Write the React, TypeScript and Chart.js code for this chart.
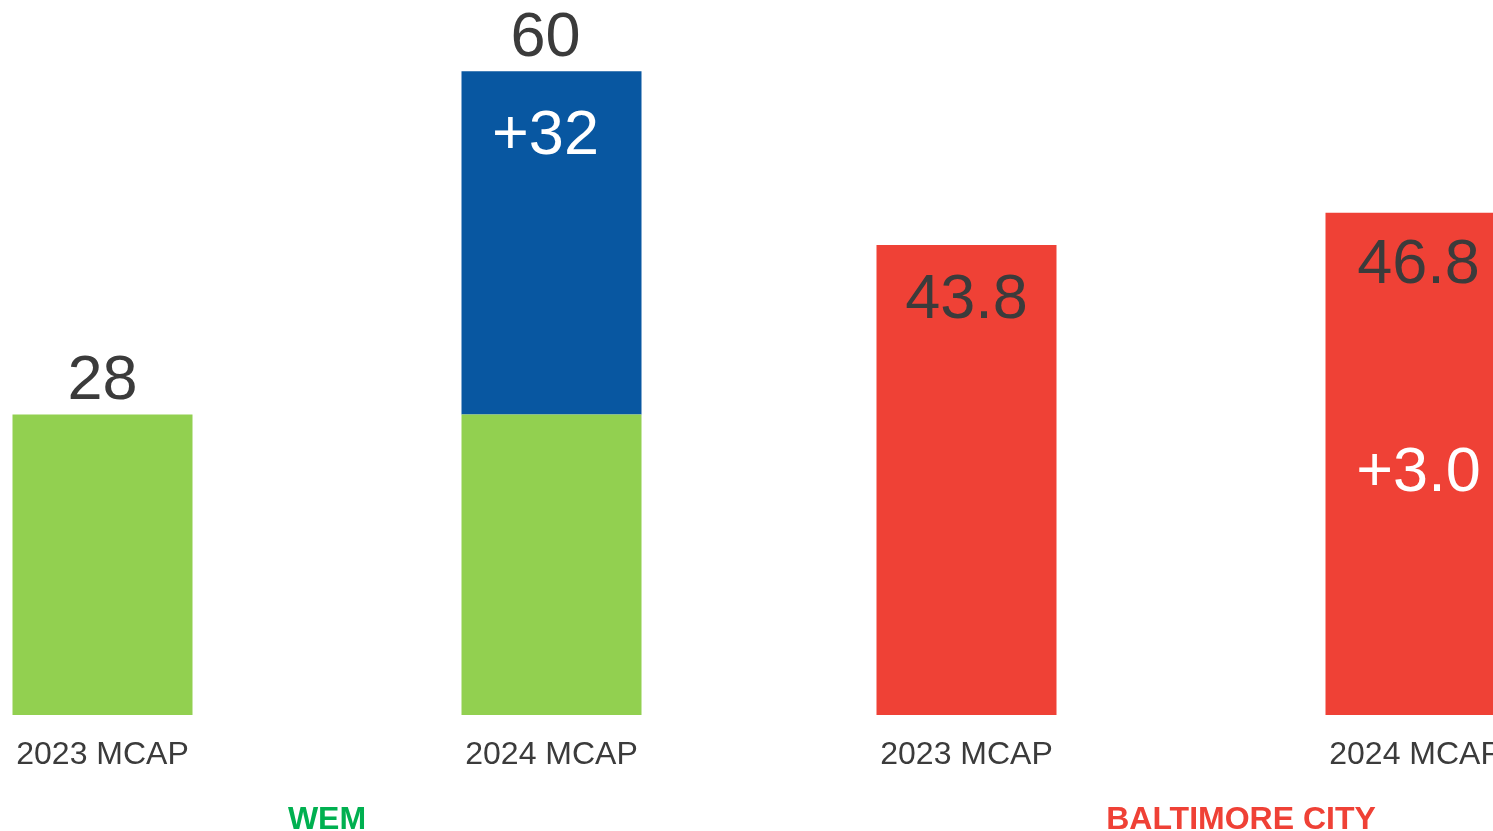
import React, { useEffect, useRef } from 'react';
import { Chart, registerables } from 'chart.js';

Chart.register(...registerables);

// ---- data ----
const groups = ['WEM', 'BALTIMORE CITY'];
const yearLabels = ['2023 MCAP', '2024 MCAP'];
const mcap2023 = [28, 43.8];
const mcap2024Base = [28, 43.8];
const mcap2024Change = [32, 3.0];
const groupDecimals = [0, 1];

// ---- styles ----
const GREEN = '#92D050';
const BLUE = '#0857A1';
const RED = '#EF4136';
const TEXT = '#3B3B3B';
const groupColors = ['#00B050', RED];
const baseColors = [GREEN, RED];
const changeColors = [BLUE, RED];
const FONT = '"Liberation Sans", Arial, Helvetica, sans-serif';

const labelPlugin = {
  id: 'mcapLabels',
  afterDatasetsDraw(chart: any) {
    const ctx = chart.ctx;
    const area = chart.chartArea;
    const m0 = chart.getDatasetMeta(0);
    const m2 = chart.getDatasetMeta(2);
    const groupShift = [0, 50];
    const dx2024 = [-6, 3];
    ctx.save();
    ctx.textAlign = 'center';
    ctx.textBaseline = 'alphabetic';
    groups.forEach((g, i) => {
      const d = groupDecimals[i];
      const b23 = m0.data[i];
      const b24 = m2.data[i];
      const total23 = mcap2023[i];
      const total24 = mcap2024Base[i] + mcap2024Change[i];
      const x24 = b24.x + dx2024[i];

      // category labels
      ctx.font = `32px ${FONT}`;
      ctx.fillStyle = TEXT;
      ctx.fillText(yearLabels[0], b23.x, area.bottom + 49);
      ctx.fillText(yearLabels[1], b24.x, area.bottom + 49);

      // group label
      ctx.font = `bold 32px ${FONT}`;
      ctx.fillStyle = groupColors[i];
      ctx.fillText(g, chart.scales.x.getPixelForValue(i) + groupShift[i], area.bottom + 114);

      // values
      ctx.font = `63px ${FONT}`;
      const changeText = '+' + mcap2024Change[i].toFixed(d);
      if (i === 0) {
        ctx.fillStyle = TEXT;
        ctx.fillText(total23.toFixed(d), b23.x, b23.y - 16);
        ctx.fillText(total24.toFixed(d), x24, b24.y - 15);
        ctx.fillStyle = '#FFFFFF';
        ctx.fillText(changeText, x24, b24.y + 83);
      } else {
        ctx.fillStyle = TEXT;
        ctx.fillText(total23.toFixed(d), b23.x, b23.y + 73);
        ctx.fillText(total24.toFixed(d), x24, b24.y + 70);
        ctx.fillStyle = '#FFFFFF';
        ctx.fillText(changeText, x24, (b24.y + area.bottom) / 2 + 27);
      }
    });
    ctx.restore();
  },
};

export default function App() {
  const ref = useRef<HTMLCanvasElement>(null);

  useEffect(() => {
    if (!ref.current) return;
    const chart = new Chart(ref.current, {
      type: 'bar',
      data: {
        labels: groups,
        datasets: [
          {
            label: yearLabels[0],
            data: mcap2023,
            backgroundColor: baseColors,
            stack: 'y2023',
            borderWidth: 0,
          },
          {
            label: yearLabels[1],
            data: mcap2024Base,
            backgroundColor: baseColors,
            stack: 'y2024',
            borderWidth: 0,
          },
          {
            label: 'Change',
            data: mcap2024Change,
            backgroundColor: changeColors,
            stack: 'y2024',
            borderWidth: 0,
          },
        ],
      },
      options: {
        responsive: false,
        animation: false,
        devicePixelRatio: 1,
        layout: { padding: { left: 0, right: 0, top: 0, bottom: 116 } },
        datasets: {
          bar: {
            categoryPercentage: 898 / 864,
            barPercentage: 180 / 449,
          },
        },
        plugins: {
          legend: { display: false },
          tooltip: { enabled: false },
        },
        scales: {
          x: { display: false, stacked: true },
          y: { display: false, stacked: true, min: 0, max: 66.632 },
        },
      },
      plugins: [labelPlugin],
    });
    return () => chart.destroy();
  }, []);

  return (
    <div
      style={{
        position: 'fixed',
        left: 0,
        top: 0,
        width: '100vw',
        height: '100vh',
        overflow: 'hidden',
        background: '#ffffff',
      }}
    >
      <canvas
        ref={ref}
        width={1728}
        height={831}
        style={{ position: 'absolute', left: -105, top: 0, width: 1728, height: 831 }}
      />
    </div>
  );
}
